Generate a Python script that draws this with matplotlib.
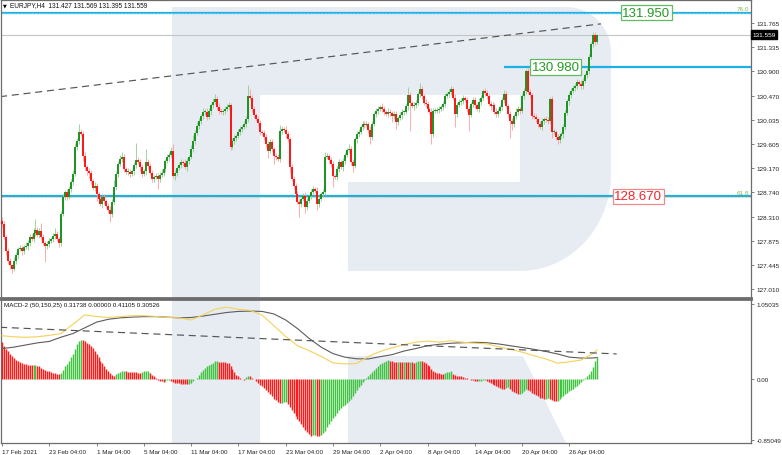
import numpy as np
import matplotlib.pyplot as plt
import matplotlib.transforms as mtransforms
from matplotlib.patches import Rectangle, Polygon

plt.rcParams['font.family'] = ['Liberation Sans', 'DejaVu Sans']

# EURJPY H4 closes, one per bar (303 bars, 17 Feb - 28 Apr 2021)
first_open = 128.23
closes = [
    128.18, 127.94, 127.69, 127.52, 127.44, 127.37, 127.52, 127.62, 127.73, 127.75,
    127.69, 127.77, 127.78, 127.84, 127.94, 127.91, 128.02, 128.07, 127.98, 128.05,
    127.94, 127.84, 127.78, 127.82, 127.87, 127.91, 127.96, 128.00, 127.91, 127.84,
    128.36, 128.66, 128.75, 128.66, 128.80, 128.93, 129.07, 129.55, 129.66, 129.82,
    129.78, 129.39, 129.19, 129.12, 129.09, 128.94, 128.82, 128.86, 128.71, 128.62,
    128.53, 128.66, 128.59, 128.50, 128.43, 128.36, 128.57, 128.84, 129.07, 129.25,
    129.34, 129.37, 129.16, 129.11, 129.11, 129.07, 129.12, 129.23, 129.32, 129.28,
    129.19, 129.07, 129.12, 129.28, 129.21, 129.09, 128.98, 129.02, 129.03, 128.98,
    129.05, 129.09, 129.16, 129.30, 129.37, 129.41, 129.48, 129.03, 129.09, 129.18,
    129.23, 129.28, 129.27, 129.19, 129.30, 129.37, 129.52, 129.66, 129.80, 129.93,
    130.02, 130.10, 130.18, 130.18, 130.09, 130.19, 130.30, 130.36, 130.41, 130.27,
    130.19, 130.18, 130.19, 130.23, 130.27, 130.30, 129.55, 129.66, 129.71, 129.75,
    129.82, 129.87, 129.91, 129.96, 130.05, 130.46, 130.43, 130.23, 130.12, 130.05,
    129.98, 129.82, 129.80, 129.73, 129.61, 129.48, 129.64, 129.52, 129.39, 129.37,
    129.34, 129.84, 129.87, 129.86, 129.78, 129.69, 129.19, 128.98, 128.86, 128.71,
    128.57, 128.53, 128.62, 128.68, 128.48, 128.59, 128.68, 128.75, 128.80, 128.77,
    128.53, 128.62, 128.71, 128.75, 129.37, 129.39, 129.32, 129.25, 129.03, 129.02,
    129.16, 129.28, 129.19, 129.30, 129.41, 129.50, 129.52, 129.28, 129.21, 129.69,
    129.78, 129.82, 129.91, 129.96, 129.94, 129.96, 129.86, 129.73, 129.96, 130.14,
    130.19, 130.23, 130.27, 130.23, 130.18, 130.14, 130.18, 130.16, 130.10, 130.14,
    130.00, 130.07, 130.12, 130.18, 130.18, 130.28, 130.48, 130.34, 130.28, 130.30,
    130.34, 130.50, 130.59, 130.46, 130.34, 130.32, 130.23, 130.18, 129.78, 130.19,
    130.21, 130.21, 130.23, 130.27, 130.32, 130.46, 130.50, 130.53, 130.59, 130.43,
    130.14, 130.30, 130.36, 130.37, 130.43, 130.39, 130.23, 130.12, 130.32, 130.39,
    130.30, 130.23, 130.36, 130.43, 130.55, 130.52, 130.46, 130.32, 130.28, 130.30,
    130.18, 130.14, 130.19, 130.27, 130.39, 130.50, 130.28, 130.14, 130.02, 129.96,
    130.10, 130.18, 130.23, 130.19, 130.46, 130.55, 130.91, 130.53, 130.48, 130.10,
    130.09, 130.05, 129.96, 129.91, 130.02, 130.05, 130.03, 130.02, 130.41, 129.82,
    129.82, 129.73, 129.68, 129.75, 129.78, 129.91, 130.16, 130.37, 130.48, 130.55,
    130.61, 130.64, 130.71, 130.68, 130.64, 130.73, 130.84, 130.91, 131.16, 131.39,
    131.55, 131.43, 131.559,
]
# wick lengths above / below the body
up_wick = [
    0.08, 0.05, 0.04, 0.06, 0.05, 0.03, 0.06, 0.05, 0.04, 0.06,
    0.05, 0.04, 0.07, 0.05, 0.06, 0.05, 0.08, 0.20, 0.05, 0.06,
    0.15, 0.05, 0.04, 0.06, 0.05, 0.04, 0.06, 0.10, 0.05, 0.04,
    0.05, 0.06, 0.04, 0.05, 0.06, 0.05, 0.07, 0.08, 0.05, 0.14,
    0.06, 0.05, 0.07, 0.04, 0.06, 0.05, 0.04, 0.06, 0.05, 0.04,
    0.05, 0.06, 0.05, 0.04, 0.05, 0.06, 0.05, 0.12, 0.06, 0.05,
    0.06, 0.10, 0.05, 0.04, 0.06, 0.05, 0.04, 0.06, 0.30, 0.05,
    0.06, 0.05, 0.04, 0.23, 0.05, 0.06, 0.05, 0.04, 0.06, 0.05,
    0.05, 0.06, 0.05, 0.04, 0.06, 0.05, 0.07, 0.12, 0.05, 0.04,
    0.06, 0.05, 0.04, 0.06, 0.05, 0.04, 0.06, 0.10, 0.05, 0.06,
    0.05, 0.04, 0.06, 0.05, 0.07, 0.05, 0.04, 0.06, 0.08, 0.05,
    0.06, 0.05, 0.04, 0.06, 0.05, 0.06, 0.04, 0.05, 0.06, 0.04,
    0.05, 0.06, 0.04, 0.05, 0.06, 0.20, 0.12, 0.05, 0.06, 0.04,
    0.05, 0.06, 0.04, 0.05, 0.06, 0.04, 0.05, 0.06, 0.04, 0.05,
    0.06, 0.10, 0.05, 0.04, 0.06, 0.05, 0.04, 0.06, 0.05, 0.04,
    0.05, 0.06, 0.04, 0.05, 0.06, 0.05, 0.04, 0.06, 0.05, 0.04,
    0.06, 0.05, 0.04, 0.06, 0.10, 0.05, 0.04, 0.06, 0.05, 0.04,
    0.06, 0.05, 0.04, 0.06, 0.05, 0.04, 0.08, 0.05, 0.06, 0.04,
    0.05, 0.06, 0.04, 0.05, 0.06, 0.05, 0.04, 0.06, 0.05, 0.04,
    0.06, 0.05, 0.04, 0.06, 0.05, 0.04, 0.06, 0.05, 0.04, 0.06,
    0.05, 0.04, 0.06, 0.05, 0.04, 0.06, 0.15, 0.05, 0.04, 0.06,
    0.05, 0.04, 0.10, 0.05, 0.04, 0.06, 0.05, 0.04, 0.06, 0.05,
    0.04, 0.06, 0.05, 0.04, 0.06, 0.05, 0.04, 0.06, 0.05, 0.04,
    0.06, 0.05, 0.04, 0.06, 0.05, 0.04, 0.06, 0.05, 0.04, 0.06,
    0.05, 0.04, 0.06, 0.05, 0.04, 0.06, 0.05, 0.04, 0.06, 0.05,
    0.04, 0.06, 0.05, 0.04, 0.06, 0.07, 0.05, 0.04, 0.06, 0.05,
    0.04, 0.06, 0.05, 0.04, 0.06, 0.05, 0.04, 0.06, 0.05, 0.04,
    0.06, 0.05, 0.04, 0.06, 0.05, 0.04, 0.06, 0.05, 0.04, 0.06,
    0.05, 0.04, 0.06, 0.05, 0.04, 0.06, 0.05, 0.04, 0.06, 0.05,
    0.04, 0.06, 0.05, 0.04, 0.06, 0.05, 0.04, 0.06, 0.05, 0.04,
    0.06, 0.05, 0.01,
]
dn_wick = [
    0.05, 0.04, 0.06, 0.05, 0.07, 0.06, 0.04, 0.05, 0.06, 0.04,
    0.06, 0.05, 0.04, 0.06, 0.05, 0.04, 0.06, 0.05, 0.04, 0.06,
    0.05, 0.04, 0.28, 0.05, 0.06, 0.04, 0.05, 0.06, 0.04, 0.08,
    0.05, 0.04, 0.06, 0.05, 0.04, 0.06, 0.05, 0.04, 0.06, 0.05,
    0.04, 0.08, 0.05, 0.06, 0.10, 0.05, 0.04, 0.06, 0.12, 0.05,
    0.04, 0.06, 0.05, 0.04, 0.06, 0.14, 0.05, 0.04, 0.06, 0.05,
    0.04, 0.06, 0.05, 0.04, 0.06, 0.05, 0.04, 0.06, 0.05, 0.04,
    0.06, 0.05, 0.04, 0.06, 0.05, 0.04, 0.06, 0.05, 0.04, 0.18,
    0.05, 0.04, 0.06, 0.05, 0.04, 0.06, 0.05, 0.04, 0.06, 0.05,
    0.04, 0.06, 0.05, 0.04, 0.06, 0.05, 0.04, 0.06, 0.05, 0.04,
    0.06, 0.05, 0.04, 0.06, 0.05, 0.04, 0.06, 0.05, 0.04, 0.06,
    0.05, 0.04, 0.06, 0.05, 0.04, 0.06, 0.05, 0.04, 0.06, 0.05,
    0.04, 0.06, 0.05, 0.04, 0.06, 0.05, 0.04, 0.06, 0.05, 0.04,
    0.06, 0.05, 0.04, 0.06, 0.05, 0.12, 0.04, 0.06, 0.15, 0.05,
    0.04, 0.06, 0.05, 0.04, 0.06, 0.05, 0.10, 0.04, 0.06, 0.05,
    0.04, 0.23, 0.05, 0.04, 0.10, 0.05, 0.04, 0.06, 0.05, 0.04,
    0.10, 0.05, 0.04, 0.06, 0.05, 0.04, 0.06, 0.05, 0.20, 0.04,
    0.06, 0.05, 0.04, 0.06, 0.05, 0.04, 0.06, 0.05, 0.10, 0.04,
    0.06, 0.05, 0.04, 0.06, 0.05, 0.04, 0.06, 0.12, 0.05, 0.04,
    0.06, 0.05, 0.04, 0.06, 0.05, 0.04, 0.06, 0.05, 0.10, 0.04,
    0.12, 0.05, 0.04, 0.06, 0.05, 0.04, 0.06, 0.50, 0.04, 0.06,
    0.05, 0.04, 0.06, 0.05, 0.04, 0.06, 0.05, 0.04, 0.18, 0.05,
    0.04, 0.06, 0.05, 0.04, 0.06, 0.05, 0.04, 0.06, 0.05, 0.04,
    0.23, 0.05, 0.04, 0.06, 0.05, 0.04, 0.06, 0.28, 0.04, 0.06,
    0.05, 0.04, 0.06, 0.05, 0.04, 0.06, 0.05, 0.04, 0.06, 0.05,
    0.04, 0.06, 0.05, 0.04, 0.06, 0.05, 0.04, 0.06, 0.30, 0.10,
    0.05, 0.04, 0.06, 0.05, 0.04, 0.06, 0.05, 0.04, 0.06, 0.05,
    0.04, 0.06, 0.05, 0.04, 0.06, 0.05, 0.04, 0.06, 0.05, 0.10,
    0.04, 0.06, 0.08, 0.05, 0.04, 0.06, 0.05, 0.04, 0.06, 0.05,
    0.04, 0.06, 0.05, 0.04, 0.06, 0.05, 0.04, 0.06, 0.05, 0.04,
    0.05, 0.06, 0.032,
]

# MACD-2 (50,150,25) histogram, one per bar
macd_hist = [
    0.52, 0.47, 0.43, 0.40, 0.36, 0.33, 0.30, 0.27, 0.25, 0.24,
    0.23, 0.215, 0.21, 0.205, 0.20, 0.195, 0.197, 0.199, 0.19, 0.18,
    0.16, 0.14, 0.13, 0.12, 0.11, 0.10, 0.095, 0.09, 0.08, 0.075,
    0.09, 0.13, 0.18, 0.22, 0.26, 0.31, 0.36, 0.42, 0.49, 0.53,
    0.55, 0.545, 0.54, 0.51, 0.49, 0.46, 0.44, 0.39, 0.35, 0.31,
    0.26, 0.23, 0.19, 0.15, 0.115, 0.085, 0.06, 0.05, 0.075, 0.095,
    0.105, 0.11, 0.12, 0.115, 0.105, 0.10, 0.098, 0.097, 0.096, 0.095,
    0.094, 0.105, 0.11, 0.112, 0.113, 0.09, 0.06, 0.04, 0.02, -0.005,
    -0.02, -0.03, -0.035, -0.02, -0.012, -0.01, -0.025, -0.035, -0.045, -0.05,
    -0.055, -0.06, -0.065, -0.07, -0.072, -0.065, -0.045, -0.025, 0.0, 0.025,
    0.06, 0.10, 0.13, 0.16, 0.185, 0.20, 0.22, 0.235, 0.25, 0.252,
    0.248, 0.245, 0.24, 0.237, 0.232, 0.225, 0.19, 0.15, 0.10, 0.065,
    0.04, 0.02, 0.005, -0.005, 0.03, 0.045, 0.04, 0.025, 0.0, -0.03,
    -0.05, -0.075, -0.10, -0.125, -0.15, -0.18, -0.21, -0.24, -0.27, -0.295,
    -0.32, -0.33, -0.325, -0.32, -0.318, -0.35, -0.39, -0.43, -0.47, -0.51,
    -0.55, -0.59, -0.63, -0.67, -0.71, -0.74, -0.77, -0.79, -0.785, -0.78,
    -0.795, -0.80, -0.78, -0.75, -0.72, -0.67, -0.62, -0.58, -0.54, -0.51,
    -0.47, -0.43, -0.40, -0.38, -0.355, -0.33, -0.30, -0.27, -0.23, -0.19,
    -0.15, -0.11, -0.075, -0.04, -0.005, 0.025, 0.05, 0.08, 0.105, 0.135,
    0.16, 0.19, 0.21, 0.23, 0.245, 0.255, 0.265, 0.26, 0.25, 0.245,
    0.24, 0.243, 0.24, 0.238, 0.241, 0.238, 0.236, 0.24, 0.236, 0.235,
    0.24, 0.25, 0.255, 0.25, 0.24, 0.225, 0.205, 0.18, 0.15, 0.12,
    0.10, 0.09, 0.085, 0.08, 0.075, 0.09, 0.10, 0.108, 0.11, 0.08,
    0.06, 0.05, 0.045, 0.04, 0.035, 0.025, 0.015, 0.005, -0.005, -0.015,
    -0.025, -0.03, -0.022, -0.018, -0.012, -0.01, -0.02, -0.035, -0.05, -0.065,
    -0.08, -0.095, -0.11, -0.12, -0.13, -0.135, -0.115, -0.11, -0.135, -0.16,
    -0.18, -0.195, -0.205, -0.20, -0.19, -0.16, -0.135, -0.15, -0.17, -0.19,
    -0.21, -0.225, -0.24, -0.255, -0.265, -0.275, -0.27, -0.265, -0.28, -0.295,
    -0.305, -0.31, -0.30, -0.28, -0.25, -0.23, -0.21, -0.19, -0.17, -0.15,
    -0.13, -0.11, -0.09, -0.06, -0.035, -0.01, 0.015, 0.04, 0.075, 0.12,
    0.17, 0.25, 0.317,
]
# MACD (yellow) and signal (grey) lines, read every 6 bars plus the last bar
line_step = 6
macd_line = [
    0.61, 0.595, 0.588, 0.595, 0.615, 0.64, 0.77, 0.90, 0.88, 0.865,
    0.877, 0.89, 0.89, 0.88, 0.865, 0.86, 0.83, 0.90, 0.98, 1.01,
    0.98, 0.965, 0.90, 0.75, 0.60, 0.47, 0.40, 0.32, 0.23, 0.215,
    0.22, 0.32, 0.39, 0.44, 0.485, 0.52, 0.535, 0.52, 0.54, 0.518,
    0.505, 0.497, 0.455, 0.42, 0.38, 0.33, 0.285, 0.225, 0.245, 0.27,
    0.36, 0.411,
]
signal_line = [
    0.43, 0.45, 0.48, 0.51, 0.53, 0.59, 0.64, 0.72, 0.80, 0.84,
    0.86, 0.87, 0.877, 0.877, 0.87, 0.86, 0.865, 0.885, 0.91, 0.935,
    0.95, 0.955, 0.95, 0.915, 0.83, 0.71, 0.57, 0.45, 0.36, 0.31,
    0.287, 0.285, 0.317, 0.345, 0.395, 0.43, 0.47, 0.49, 0.505, 0.512,
    0.518, 0.512, 0.495, 0.47, 0.445, 0.42, 0.39, 0.355, 0.31, 0.297,
    0.298, 0.305,
]

# trend lines (bar, value)
price_trend_bars = [-1, 304]
price_trend = [130.45, 131.75]
macd_trend_bars = [-1, 312]
macd_trend = [0.728, 0.355]

# horizontal levels
levels = [131.950, 130.980, 128.670]
level_start = [-1, 255, -1]
level_label_bar = [327, 281, 323]
level_text_col = ['#259a25', '#259a25', '#f0262b']
level_edge_col = ['#62bb62', '#62bb62', '#f08a8a']
fib_labels = ['76.0', '61.8']
fib_levels = [131.950, 128.670]
last_price = 131.559

price_ticks = [131.765, 131.335, 130.900, 130.470, 130.035, 129.605,
               129.170, 128.740, 128.310, 127.875, 127.445, 127.010]
macd_ticks = [1.05035, 0.0, -0.85049]
macd_tick_labels = ['1.05035', '0.00', '-0.85049']
date_step = 24
date_labels = ['17 Feb 2021', '23 Feb 04:00', '1 Mar 04:00', '5 Mar 04:00',
               '11 Mar 04:00', '17 Mar 04:00', '23 Mar 04:00', '29 Mar 04:00',
               '2 Apr 04:00', '8 Apr 04:00', '14 Apr 04:00', '20 Apr 04:00',
               '26 Apr 04:00']
header = 'EURJPY,H4  131.427 131.569 131.395 131.559'
macd_header = 'MACD-2 (50,150,25) 0.31738 0.00000 0.41105 0.30526'

W, H = 782, 456
fig = plt.figure(figsize=(W / 100, H / 100), dpi=100)
fig.patch.set_facecolor('white')

# pixel coordinates (y down) -> figure
pix = mtransforms.Affine2D().scale(1 / W, -1 / H).translate(0, 1) + fig.transFigure

# watermark "R" logo
wm = '#e7ecf3'
for r in [(172, 8, 88, 436), (260, 8, 260, 88), (348, 183, 172, 89)]:
    fig.add_artist(Rectangle(r[:2], r[2], r[3], transform=pix, fc=wm, ec='none', zorder=-5))
fig.add_artist(Polygon([(348, 357), (523, 357), (566, 444), (348, 444)],
                       transform=pix, fc=wm, ec='none', zorder=-5))
t1 = np.linspace(-np.pi / 2, 0, 20)
t2 = np.linspace(0, np.pi / 2, 30)
bowl = [(520, 8)] + list(zip(566 + 45 * np.cos(t1), 53 + 45 * np.sin(t1))) + \
       list(zip(520 + 91 * np.cos(t2), 175 + 97 * np.sin(t2)))
fig.add_artist(Polygon(bowl, transform=pix, fc=wm, ec='none', zorder=-5))

ax = fig.add_axes([1 / W, 1 - 299 / H, 750 / W, 298 / H])
ax2 = fig.add_axes([1 / W, 1 - 444 / H, 750 / W, 144 / H])
for a in (ax, ax2):
    a.set_facecolor('none')
    a.set_xlim(-0.5, 380.2)
    for s in a.spines.values():
        s.set_color('#6c6c6c')
        s.set_linewidth(0.9)
ax.spines['bottom'].set_linewidth(2)
ax2.spines['top'].set_linewidth(2)
ax.set_ylim(126.855, 132.176)
ax2.set_ylim(-0.892, 1.124)

# candles
c = np.array(closes)
o = np.array([first_open] + closes[:-1])
hi = np.maximum(o, c) + np.array(up_wick)
lo = np.minimum(o, c) - np.array(dn_wick)
idx = np.arange(len(c))
bull = c >= o
top = np.maximum(o, c)
bot = np.minimum(o, c)
mid = (top + bot) / 2
top = np.maximum(top, mid + 0.008)
bot = np.minimum(bot, mid - 0.008)
ax.vlines(idx[bull], lo[bull], hi[bull], color='#8fcd8f', lw=0.6, zorder=3)
ax.vlines(idx[~bull], lo[~bull], hi[~bull], color='#ff9d9d', lw=0.6, zorder=3)
ax.vlines(idx[bull], bot[bull], top[bull], color='#13901a', lw=1.35, zorder=4)
ax.vlines(idx[~bull], bot[~bull], top[~bull], color='#ff0d0d', lw=1.35, zorder=4)

# levels
ax.axhline(last_price, color='#c4c4c4', lw=0.8, zorder=1)
for lv, st in zip(levels, level_start):
    ax.hlines(lv, st, 380.2, color='#1cb1e6', lw=1.6, zorder=2)
ax.axhline(levels[0], color='#bfeaf7', lw=0.5, ls=(0, (1, 1)), zorder=2)
ax.hlines(levels[2] - 0.01, -1, 380.2, color='#e3b84a', lw=0.5, ls=(0, (1, 1)), zorder=2)
for lv, xb, tc, ec in zip(levels, level_label_bar, level_text_col, level_edge_col):
    ax.text(xb, lv, '{:.3f}'.format(lv), fontsize=9.5, color=tc, ha='center', va='center',
            zorder=6, bbox=dict(boxstyle='square,pad=0.12', fc='white', ec=ec, lw=0.9))
for lab, lv in zip(fib_labels, fib_levels):
    ax.text(379.5, lv + 0.03, lab, fontsize=4.6, color='#86b84a', ha='right', va='bottom', zorder=6)
ax.plot(price_trend_bars, price_trend, color='#555555', lw=0.85, ls=(0, (6, 4)), zorder=2)

# axes ticks
ax.yaxis.tick_right()
ax.set_yticks(price_ticks)
ax.set_yticklabels(['{:.3f}'.format(v) for v in price_ticks])
ax.set_xticks([])
ax.tick_params(axis='y', labelsize=4.6, length=2.5, width=0.6, pad=1.5,
               colors='#6c6c6c', labelcolor='#222222')
ax.text(1.002, last_price, '{:.3f}'.format(last_price), transform=ax.get_yaxis_transform(),
        fontsize=4.6, color='white', va='center', ha='left',
        bbox=dict(boxstyle='square,pad=0.25', fc='black', ec='black'))

# MACD panel
hv = np.array(macd_hist)
cols = ['#ff1a1a'] + ['#3fc43f' if hv[i] >= hv[i - 1] else '#ff1a1a' for i in range(1, len(hv))]
ax2.vlines(idx, 0, hv, colors=cols, lw=1.05, zorder=3)
lx = list(range(0, len(c) - 2, line_step)) + [len(c) - 1]
ax2.plot(lx, signal_line, color='#5c5c5c', lw=0.8, zorder=4)
ax2.plot(lx, macd_line, color='#f3d258', lw=0.8, zorder=4)
ax2.plot(macd_trend_bars, macd_trend, color='#555555', lw=0.85, ls=(0, (6, 4)), zorder=4)
ax2.yaxis.tick_right()
ax2.set_yticks(macd_ticks)
ax2.set_yticklabels(macd_tick_labels)
ax2.set_xticks([i * date_step for i in range(len(date_labels))])
ax2.set_xticklabels(date_labels, ha='left')
ax2.tick_params(labelsize=4.5, length=2.5, width=0.6, pad=1.5,
                colors='#6c6c6c', labelcolor='#222222')

fig.text(3 / W, 1 - 6 / H, '\u25bc', fontsize=3.5, family='DejaVu Sans', va='center')
fig.text(10 / W, 1 - 6 / H, header, fontsize=4.7, va='center', color='#111111')
fig.text(4 / W, 1 - 305 / H, macd_header, fontsize=4.5, va='center', color='#111111')

plt.savefig('out.png', dpi=100)
